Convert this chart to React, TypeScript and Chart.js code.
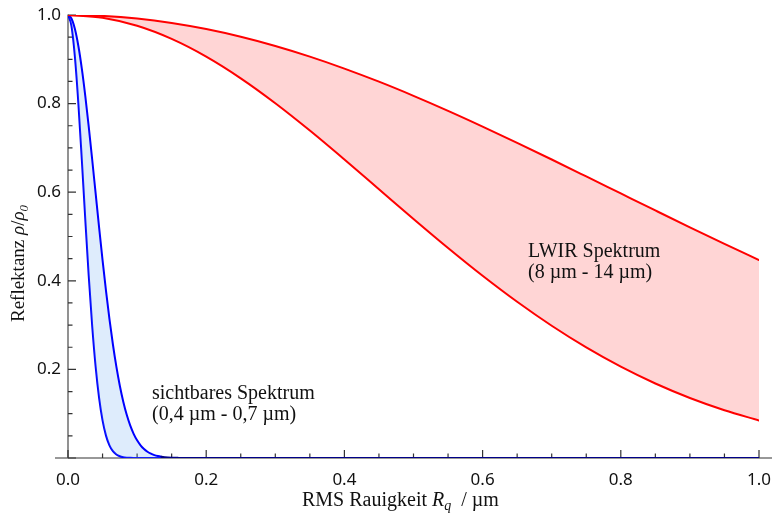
import React, { useEffect, useRef } from 'react';
import { Chart, registerables } from 'chart.js';

Chart.register(...registerables);

// RMS roughness (µm) for the LWIR curves
const lwirRoughness = [0, 0.05, 0.1, 0.15, 0.2, 0.25, 0.3, 0.35, 0.4, 0.45, 0.5, 0.55, 0.6, 0.65, 0.7, 0.75, 0.8, 0.85, 0.9, 0.95, 1.0];
// reflectance at 8 µm (lower red)
const lwir8um = [1, 0.99385, 0.97563, 0.94599, 0.90602, 0.85709, 0.80087, 0.73916, 0.67384, 0.60674, 0.53964, 0.47409, 0.41137, 0.35259, 0.29847, 0.24961, 0.20615, 0.16818, 0.13552, 0.10786, 0.0848];
// reflectance at 14 µm (upper red)
const lwir14um = [1, 0.99799, 0.99198, 0.98203, 0.96829, 0.95089, 0.93005, 0.90601, 0.87905, 0.84945, 0.81754, 0.78369, 0.7482, 0.71146, 0.67383, 0.63559, 0.59715, 0.55875, 0.52066, 0.48328, 0.44677];

// RMS roughness (µm) for the visible curves
const visRoughness = [0, 0.005, 0.01, 0.015, 0.02, 0.025, 0.03, 0.035, 0.04, 0.045, 0.05, 0.055, 0.06, 0.065, 0.07, 0.075, 0.08, 0.085, 0.09, 0.095, 0.1, 0.105, 0.11, 0.115, 0.12, 0.125, 0.13, 0.135, 0.14, 0.15, 0.16, 0.17, 0.18, 0.2, 0.3, 0.4, 0.5, 0.6, 0.7, 0.8, 0.9, 1.0];
// reflectance at 0.4 µm (lower blue)
const vis04um = [1, 0.97563, 0.90602, 0.80087, 0.67384, 0.53964, 0.41137, 0.29847, 0.20615, 0.13552, 0.0848, 0.05051, 0.02863, 0.01545, 0.00794, 0.00388, 0.00181, 0.0008, 0.00034, 0.00014, 0.00005, 0, 0, 0, 0, 0, 0, 0, 0, 0, 0, 0, 0, 0, 0, 0, 0, 0, 0, 0, 0, 0];
// reflectance at 0.7 µm (upper blue)
const vis07um = [1, 0.99198, 0.96829, 0.93005, 0.87905, 0.81754, 0.7482, 0.67383, 0.59715, 0.52066, 0.44677, 0.37723, 0.3134, 0.25623, 0.20614, 0.16318, 0.12711, 0.09742, 0.07349, 0.05455, 0.03985, 0.02863, 0.02025, 0.01409, 0.00965, 0.0065, 0.00431, 0.00281, 0.00181, 0.00071, 0.00026, 0.00009, 0.00003, 0, 0, 0, 0, 0, 0, 0, 0, 0];

const xTitleRuns = [
  { text: 'RMS Rauigkeit ', style: 'normal', size: 20, dy: 0 },
  { text: 'R', style: 'italic', size: 20, dy: 0 },
  { text: 'q', style: 'italic', size: 14, dy: 4 },
  { text: '  / µm', style: 'normal', size: 20, dy: 0 },
];
const yTitleRuns = [
  { text: 'Reflektanz ', style: 'normal', size: 19, dy: 0 },
  { text: 'ρ', style: 'italic', size: 19, dy: 0 },
  { text: '/', style: 'normal', size: 19, dy: 0 },
  { text: 'ρ', style: 'italic', size: 19, dy: 0 },
  { text: '0', style: 'italic', size: 13, dy: 4 },
];

const serif = '"Liberation Serif", "Times New Roman", serif';

function fontOf(r: any) {
  return `${r.style} ${r.size}px ${serif}`;
}

function runsWidth(ctx: CanvasRenderingContext2D, runs: any[]) {
  let w = 0;
  for (const r of runs) {
    ctx.font = fontOf(r);
    w += ctx.measureText(r.text).width;
  }
  return w;
}

function drawRuns(ctx: CanvasRenderingContext2D, runs: any[], x: number, y: number) {
  let cx = x;
  for (const r of runs) {
    ctx.font = fontOf(r);
    ctx.fillText(r.text, cx, y + r.dy);
    cx += ctx.measureText(r.text).width;
  }
}

const decorPlugin = {
  id: 'decor',
  beforeDatasetsDraw(chart: any) {
    const { ctx, chartArea: a, scales } = chart;
    const x = scales.x;
    const y = scales.y;
    const y0 = y.getPixelForValue(0);
    const y1 = y.getPixelForValue(1);
    ctx.save();
    ctx.strokeStyle = '#777777';
    ctx.lineWidth = 1.6;
    ctx.beginPath();
    ctx.moveTo(a.left, y1 - 0.5);
    ctx.lineTo(a.left, y0);
    ctx.moveTo(a.left - 13, y0);
    ctx.lineTo(a.right + 13, y0);
    ctx.stroke();
    ctx.strokeStyle = '#333333';
    ctx.lineWidth = 1.2;
    ctx.beginPath();
    for (let i = 0; i <= 20; i++) {
      const v = i * 0.05;
      const len = i % 4 === 0 ? 8 : 4.5;
      const px = x.getPixelForValue(v);
      ctx.moveTo(px, y0);
      ctx.lineTo(px, y0 - len);
      const py = y.getPixelForValue(v);
      ctx.moveTo(a.left, py);
      ctx.lineTo(a.left + len, py);
    }
    ctx.stroke();
    ctx.restore();
  },
  afterDraw(chart: any) {
    const { ctx } = chart;
    ctx.save();
    ctx.fillStyle = '#111111';
    ctx.textBaseline = 'alphabetic';
    ctx.textAlign = 'left';
    // x title
    drawRuns(ctx, xTitleRuns, 302, 506);
    // y title
    const yw = runsWidth(ctx, yTitleRuns);
    ctx.save();
    ctx.translate(24, 263.5);
    ctx.rotate(-Math.PI / 2);
    drawRuns(ctx, yTitleRuns, -yw / 2, 0);
    ctx.restore();
    // annotations
    ctx.font = `20px ${serif}`;
    ctx.fillText('sichtbares Spektrum', 152, 399);
    ctx.fillText('(0,4 µm - 0,7 µm)', 152, 420);
    ctx.fillText('LWIR Spektrum', 528, 257);
    ctx.fillText('(8 µm - 14 µm)', 528, 278);
    ctx.restore();
  },
};

export default function App() {
  const ref = useRef<HTMLCanvasElement | null>(null);
  useEffect(() => {
    if (!ref.current) return;
    const navyAtZero = (c: any) =>
      c.p0.parsed.y < 0.003 && c.p1.parsed.y < 0.003 ? '#000088' : undefined;
    const chart = new Chart(ref.current, {
      type: 'line',
      data: {
        datasets: [
          {
            label: 'LWIR 14 µm',
            data: lwirRoughness.map((r, i) => ({ x: r, y: lwir14um[i] })),
            borderColor: '#ff0000',
            borderWidth: 2,
            backgroundColor: 'rgba(255,0,0,0.165)',
            fill: '+1',
            pointRadius: 0,
            cubicInterpolationMode: 'monotone',
          },
          {
            label: 'LWIR 8 µm',
            data: lwirRoughness.map((r, i) => ({ x: r, y: lwir8um[i] })),
            borderColor: '#ff0000',
            borderWidth: 2,
            fill: false,
            pointRadius: 0,
            cubicInterpolationMode: 'monotone',
          },
          {
            label: 'VIS 0.7 µm',
            data: visRoughness.map((r, i) => ({ x: r, y: vis07um[i] })),
            borderColor: '#0000ff',
            borderWidth: 2,
            backgroundColor: 'rgba(90,160,240,0.2)',
            fill: '+1',
            pointRadius: 0,
            cubicInterpolationMode: 'monotone',
            segment: { borderColor: navyAtZero },
          },
          {
            label: 'VIS 0.4 µm',
            data: visRoughness.map((r, i) => ({ x: r, y: vis04um[i] })),
            borderColor: '#0000ff',
            borderWidth: 2,
            fill: false,
            pointRadius: 0,
            cubicInterpolationMode: 'monotone',
          },
        ],
      },
      options: {
        animation: false,
        responsive: false,
        devicePixelRatio: 1,
        layout: { padding: { top: 15, right: 15, left: 0, bottom: 0 } },
        plugins: { legend: { display: false }, tooltip: { enabled: false } },
        elements: { line: { borderJoinStyle: 'round', borderCapStyle: 'round' } },
        scales: {
          x: {
            type: 'linear',
            min: 0,
            max: 1,
            grid: { display: false, drawTicks: false },
            border: { display: false },
            ticks: {
              stepSize: 0.2,
              padding: 12,
              color: '#111111',
              font: { family: '"Noto Sans", sans-serif', size: 17 },
              callback: (v: any) => Number(v).toFixed(1),
            },
            afterFit: (s: any) => { s.height = 56; s.paddingLeft = 0; s.paddingRight = 0; },
          },
          y: {
            type: 'linear',
            min: 0,
            max: 1,
            grid: { display: false, drawTicks: false },
            border: { display: false },
            ticks: {
              stepSize: 0.2,
              padding: 7,
              color: '#111111',
              font: { family: '"Noto Sans", sans-serif', size: 17 },
              callback: (v: any) => (Number(v) === 0 ? '' : Number(v).toFixed(1)),
            },
            afterFit: (s: any) => { s.width = 68; s.paddingTop = 0; s.paddingBottom = 0; },
          },
        },
      } as any,
      plugins: [decorPlugin],
    });
    return () => chart.destroy();
  }, []);
  return (
    <div style={{ position: 'fixed', left: 0, top: 0, width: 774, height: 514, background: '#ffffff' }}>
      <canvas ref={ref} width={774} height={514} style={{ display: 'block' }} />
    </div>
  );
}
